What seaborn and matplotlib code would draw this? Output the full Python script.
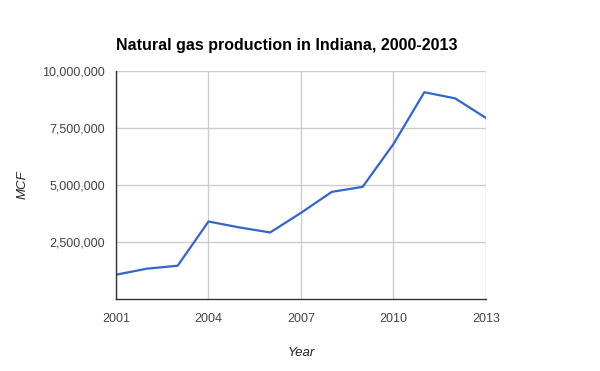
"""Natural gas production in Indiana, line chart."""
import matplotlib
matplotlib.use('Agg')
import matplotlib.pyplot as plt
import pandas as pd
import seaborn as sns

years = [2001, 2002, 2003, 2004, 2005, 2006, 2007,
         2008, 2009, 2010, 2011, 2012, 2013]
production_mcf = [1066000, 1330000, 1460000, 3400000, 3140000, 2920000,
                  3780000, 4700000, 4920000, 6800000, 9070000, 8800000,
                  7940000]
x_ticks = [2001, 2004, 2007, 2010, 2013]
y_ticks = [2500000, 5000000, 7500000, 10000000]
y_tick_labels = ['2,500,000', '5,000,000', '7,500,000', '10,000,000']

df = pd.DataFrame({'Year': years, 'MCF': production_mcf})

sns.set_style('white')
plt.rcParams['font.family'] = ['Liberation Sans', 'DejaVu Sans']

fig = plt.figure(figsize=(6, 3.71), dpi=100)
ax = fig.add_axes([0.1933, 0.194, 0.6167, 0.6146])

sns.lineplot(data=df, x='Year', y='MCF', ax=ax,
             color='#3366cc', linewidth=1.6)

ax.set_xlim(2001, 2013)
ax.set_ylim(0, 10000000)
ax.set_xticks(x_ticks)
ax.set_xticklabels([str(t) for t in x_ticks])
ax.set_yticks(y_ticks)
ax.set_yticklabels(y_tick_labels)
ax.tick_params(axis='both', length=0, labelsize=9, colors='#444444')
ax.tick_params(axis='x', pad=10)
ax.tick_params(axis='y', pad=8)

ax.grid(True, color='#cccccc', linewidth=1)
ax.set_axisbelow(True)
for side in ['top', 'right']:
    ax.spines[side].set_visible(False)
for side in ['left', 'bottom']:
    ax.spines[side].set_color('#333333')
    ax.spines[side].set_linewidth(1)

ax.set_xlabel('Year', fontsize=9.5, style='italic', color='#222222',
              labelpad=16)
ax.set_ylabel('MCF', fontsize=9.5, style='italic', color='#222222',
              labelpad=10)

ax.set_title('Natural gas production in Indiana, 2000-2013', loc='left',
             fontsize=11.5, fontweight='bold', color='#000000', pad=15)

fig.savefig('out.png', dpi=100)
